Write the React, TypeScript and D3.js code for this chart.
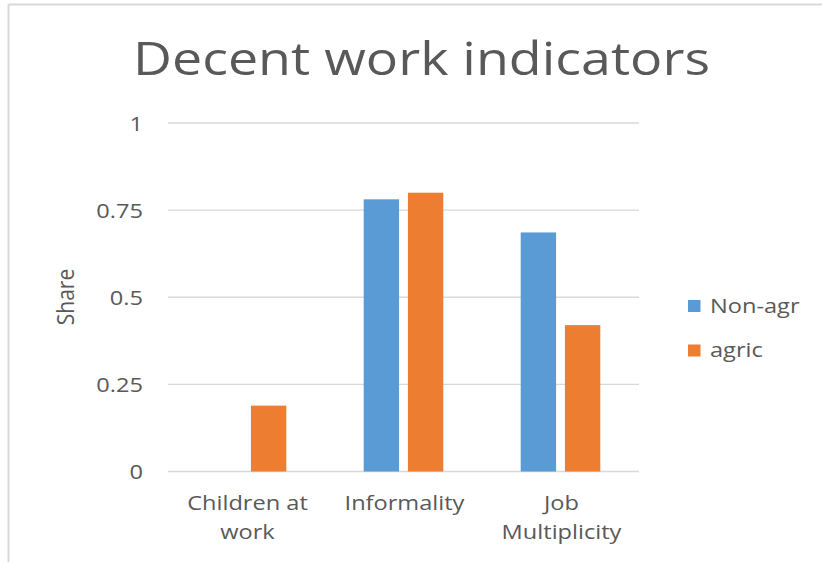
import React from "react";
import * as d3 from "d3";

const categories: string[][] = [["Children at", "work"], ["Informality"], ["Job", "Multiplicity"]];
const categoryKeys = ["Children at work", "Informality", "Job Multiplicity"];
const seriesNames = ["Non-agr", "agric"];
const nonAgr: (number | null)[] = [null, 0.781, 0.686];
const agric: (number | null)[] = [0.189, 0.8, 0.42];
const yTicks = [0, 0.25, 0.5, 0.75, 1];
const yTickLabels = ["0", "0.25", "0.5", "0.75", "1"];
const colors = ["#5B9BD5", "#ED7D31"];

const W = 822;
const H = 562;
const FONT = "'Open Sans', 'Noto Sans', sans-serif";
const TEXT = "#595959";
const SX = 1.18;

function T(props: { x: number; y: number; anchor?: string; size: number; sx?: number; children: React.ReactNode; textLength?: number }) {
  const { x, y, anchor = "start", size, sx = SX, children, textLength } = props;
  return (
    <text
      transform={`translate(${x},${y}) scale(${sx},1)`}
      textAnchor={anchor as any}
      fontFamily={FONT}
      fontSize={size}
      fill={TEXT}
      textLength={textLength}
      lengthAdjust={textLength ? "spacingAndGlyphs" : undefined}
    >
      {children}
    </text>
  );
}

export default function App() {
  const x = d3.scaleBand<string>().domain(categoryKeys).range([168, 639]).paddingInner(0).paddingOuter(0);
  const xSub = d3.scaleBand<string>().domain(seriesNames).range([-39.8, 39.8]).paddingInner(0.2);
  const y = d3.scaleLinear().domain([0, 1]).range([471.5, 123]);
  const seriesVals = [nonAgr, agric];

  return (
    <svg width={W} height={H} style={{ position: "fixed", left: 0, top: 0, display: "block", background: "#fff" }}>
      <rect x={0} y={0} width={W} height={H} fill="#fff" />
      {/* chart border */}
      <line x1={8.5} y1={4.5} x2={W} y2={4.5} stroke="#d9d9d9" strokeWidth={2} />
      <line x1={8.5} y1={4.5} x2={8.5} y2={H} stroke="#d9d9d9" strokeWidth={2} />

      {/* title */}
      <T x={421.5} y={75} anchor="middle" size={46} sx={1}>
        <tspan textLength={577} lengthAdjust="spacingAndGlyphs">Decent work indicators</tspan>
      </T>

      {/* gridlines */}
      {yTicks.map((t) => (
        <line key={t} x1={168} x2={639} y1={y(t)} y2={y(t)} stroke="#d9d9d9" strokeWidth={1.3} />
      ))}

      {/* y tick labels */}
      {yTicks.map((t, i) => (
        <T key={t} x={143} y={y(t) + 7.5} anchor="end" size={20}>
          {yTickLabels[i]}
        </T>
      ))}

      {/* y axis title */}
      <text
        transform={`translate(74,297) rotate(-90) scale(1,1.15)`}
        textAnchor="middle"
        fontFamily={FONT}
        fontSize={21}
        fill={TEXT}
      >
        Share
      </text>

      {/* bars */}
      {seriesVals.map((vals, si) =>
        vals.map((v, ci) => {
          if (v === null) return null;
          const cx = (x(categoryKeys[ci]) as number) + x.bandwidth() / 2;
          const bx = cx + (xSub(seriesNames[si]) as number);
          return (
            <rect
              key={`${si}-${ci}`}
              x={bx}
              y={y(v)}
              width={xSub.bandwidth()}
              height={y(0) - y(v)}
              fill={colors[si]}
            />
          );
        })
      )}

      {/* category labels */}
      {categories.map((lines, ci) => {
        const cx = (x(categoryKeys[ci]) as number) + x.bandwidth() / 2 + 1;
        return lines.map((ln, li) => (
          <T key={`${ci}-${li}`} x={cx} y={510 + li * 29} anchor="middle" size={20}>
            {ln}
          </T>
        ));
      })}

      {/* legend */}
      {seriesNames.map((s, i) => (
        <g key={s}>
          <rect x={688} y={300 + i * 44.5} width={12.5} height={12} fill={colors[i]} />
          <T x={710} y={313 + i * 44} size={20}>
            {s}
          </T>
        </g>
      ))}
    </svg>
  );
}
